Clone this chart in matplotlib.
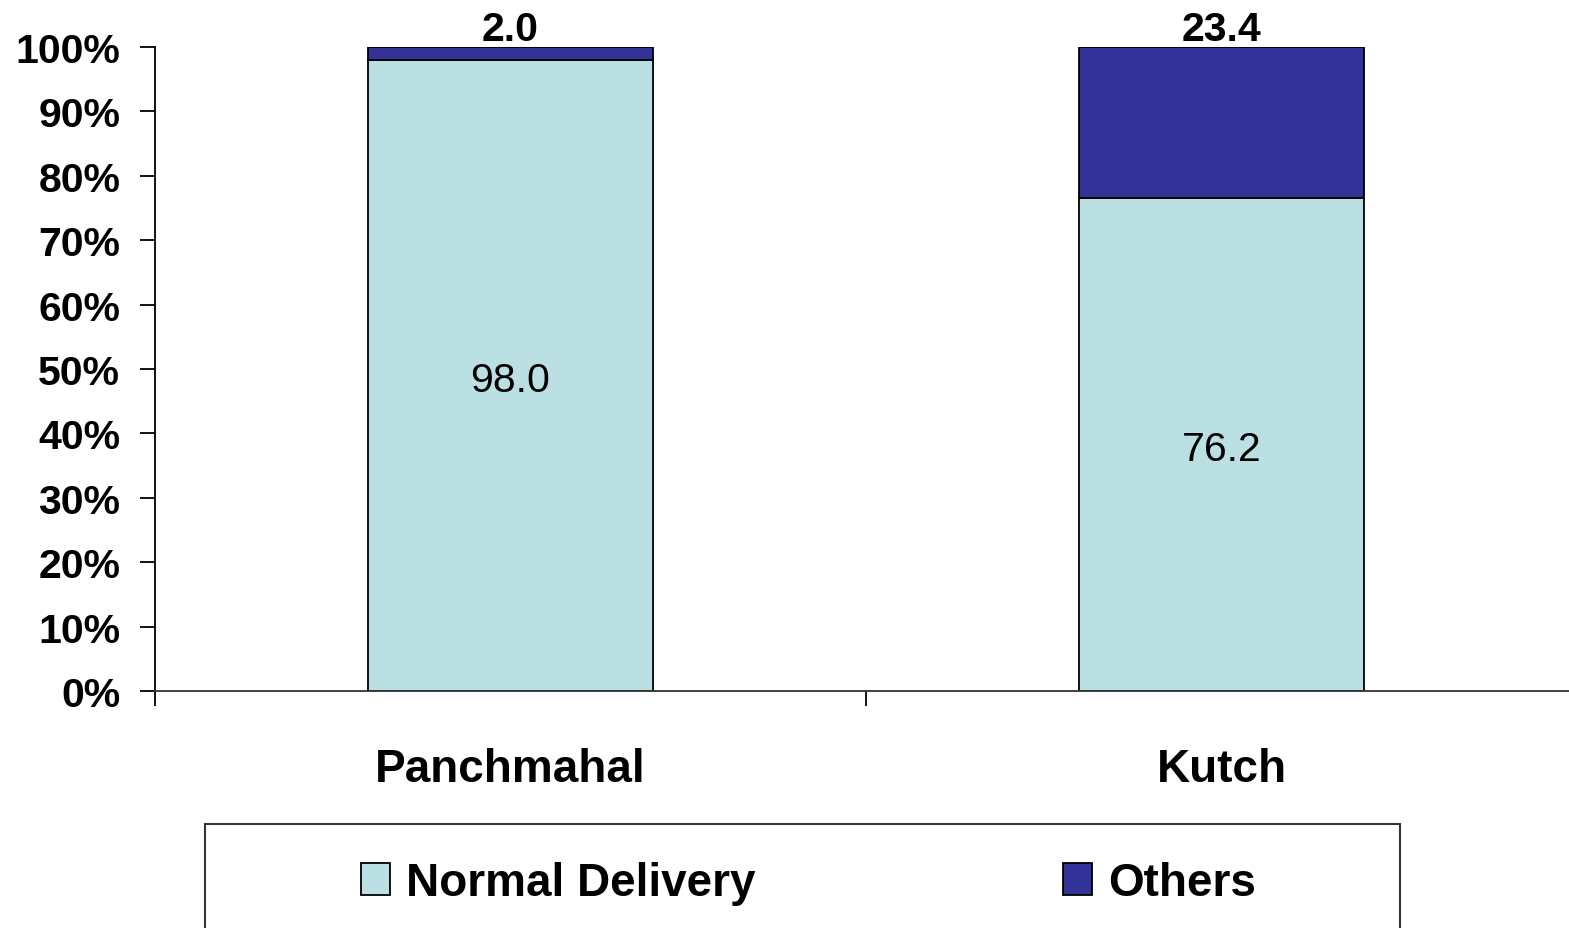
import matplotlib
matplotlib.use("Agg")
import matplotlib.pyplot as plt
from matplotlib.patches import Patch, Rectangle
import numpy as np

categories = ["Panchmahal", "Kutch"]
normal_delivery = [98.0, 76.2]
others = [2.0, 23.4]
series_names = ["Normal Delivery", "Others"]
ytick_values = [0, 10, 20, 30, 40, 50, 60, 70, 80, 90, 100]
ytick_labels = ["0%", "10%", "20%", "30%", "40%", "50%", "60%", "70%", "80%", "90%", "100%"]

c_normal = "#BBE0E3"
c_others = "#333399"

plt.rcParams['font.family'] = ['Liberation Sans', 'DejaVu Sans']

W, H = 1569, 929
fig = plt.figure(figsize=(W / 100, H / 100), dpi=100)
ax = fig.add_axes([155 / W, (H - 692) / H, (W - 155) / W, 644 / H])

# 100% stacked: normalise each category to its total
nd = np.array(normal_delivery)
ot = np.array(others)
tot = nd + ot
nd_pct = nd / tot * 100
ot_pct = ot / tot * 100

x = np.arange(len(categories)) + 0.5
bw = 0.40
ax.bar(x, nd_pct, width=bw, color=c_normal, edgecolor="black", linewidth=1.3)
ax.bar(x, ot_pct, width=bw, bottom=nd_pct, color=c_others, edgecolor="black", linewidth=1.3)

for xi, v, vp in zip(x, normal_delivery, nd_pct):
    ax.annotate(f"{v:.1f}", (xi, vp / 2), xytext=(0, -3), textcoords="offset points",
                ha="center", va="center", fontsize=29.5, color="black")
for xi, ov, nvp, ovp in zip(x, others, nd_pct, ot_pct):
    ax.annotate(f"{ov:.1f}", (xi, nvp + ovp), xytext=(0, -1), textcoords="offset points",
                ha="center", va="bottom", fontsize=29.5, fontweight="bold",
                color="black", annotation_clip=False)

ax.set_xlim(0, (W - 155) / 711)
ax.set_ylim(0, 100)
ax.set_yticks(ytick_values)
ax.set_yticklabels(ytick_labels, fontsize=29.5, fontweight="bold")
ax.tick_params(axis="y", length=11, width=1.3, pad=14)

ax.set_xticks([0, 1])
ax.set_xticklabels([])
ax.tick_params(axis="x", which="major", length=11, width=1.3, direction="out")
ax.set_xticks(x, minor=True)
ax.set_xticklabels(categories, minor=True, fontsize=33, fontweight="bold")
ax.tick_params(axis="x", which="minor", length=0, pad=40)

for s in ["top", "right"]:
    ax.spines[s].set_visible(False)
ax.spines["left"].set_linewidth(1.3)
ax.spines["bottom"].set_linewidth(1.3)
ax.spines["bottom"].set_color("#333333")

handles = [Patch(facecolor=c_normal, edgecolor="black", linewidth=1.3),
           Patch(facecolor=c_others, edgecolor="black", linewidth=1.3)]
fig.legend(handles, series_names, ncol=2, loc="center left",
           bbox_to_anchor=(361 / W, 1 - 884 / H), frameon=False,
           prop={"size": 33, "weight": "bold"}, handlelength=0.63, handleheight=0.68,
           handletextpad=0.35, columnspacing=6.72, borderpad=0, borderaxespad=0)
fig.add_artist(Rectangle((205 / W, -0.05), (1400 - 205) / W, (H - 825) / H + 0.05,
                         transform=fig.transFigure, fill=False, edgecolor="#333333",
                         linewidth=1.5, clip_on=False))

fig.savefig("out.png", dpi=100)
